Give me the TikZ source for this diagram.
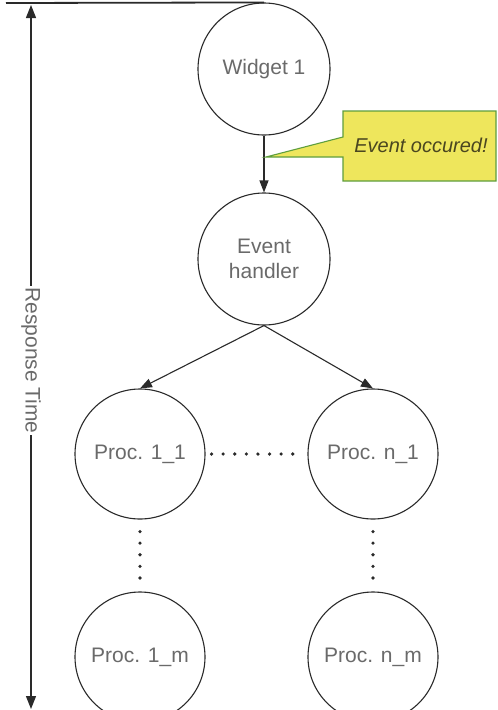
\documentclass[tikz,border=0pt]{standalone}
\usepackage{fontspec}
\setmainfont{Liberation Sans}
\usetikzlibrary{arrows.meta}
\definecolor{txt}{HTML}{6A6A6A}
\definecolor{ln}{HTML}{2A2A2A}
\definecolor{callfill}{HTML}{EEE65C}
\definecolor{callborder}{HTML}{5E9E3E}
\definecolor{calltxt}{HTML}{4A4620}
\begin{document}
\begin{tikzpicture}[x=1pt,y=-1pt,
  proc/.style={circle, draw=ln, line width=1.1pt, minimum size=130pt, inner sep=0pt,
    text=txt, font=\fontsize{21}{25}\selectfont, align=center},
  flow/.style={draw=ln, line width=1.1pt, -{Triangle[length=12pt,width=9pt]}},
  dotline/.style={draw=ln, line width=3.6pt, dash pattern=on 0pt off 11.6pt, line cap=round},
  rtime/.style={draw=ln, line width=1.4pt, {Triangle[length=13pt,width=10pt]}-{Triangle[length=13pt,width=10pt]}}]
\clip (0,0) rectangle (498,710);
\fill[white] (0,0) rectangle (498,710);
% nodes
\node[proc, minimum size=132pt] (w) at (264,69) {Widget 1};
\node[proc, minimum size=132pt] (eh) at (264,259) {Event\\handler};
\node[proc] (p11) at (140,454) {Proc. 1\_1};
\node[proc] (pn1) at (373,454) {Proc. n\_1};
\node[proc] (p1m) at (140,657) {Proc. 1\_m};
\node[proc] (pnm) at (373,657) {Proc. n\_m};
% top reference line
\coordinate (topleft) at (6,3);
\draw[ln, line width=1.8pt] (topleft) -- (w.north);
% response time arrow
\coordinate (rtop) at (31,5);
\coordinate (rbot) at (31,709);
\draw[rtime] (rtop) -- (rbot) node[pos=0.505, fill=white, inner sep=1pt, rotate=-90, text=txt,
  font=\fontsize{21}{25}\selectfont] (rt) {Response Time};
% connectors
\draw[flow] (w.south) -- (eh.north);
\draw[flow] (eh.south) -- (p11.north);
\draw[flow] (eh.south) -- (pn1.north);
\draw[dotline] ([xshift=6pt]p11.east) -- ([xshift=-6pt]pn1.west);
\draw[dotline] ([yshift=-12pt]p11.south) -- ([yshift=3pt]p1m.north);
\draw[dotline] ([yshift=-12pt]pn1.south) -- ([yshift=3pt]pnm.north);
% callout
\coordinate (tip) at (266,157);
\draw[callborder, fill=callfill, line width=1.1pt, line join=miter]
  (343,111) -- (496,111) -- (496,181) -- (343,181) -- (343,157) -- (tip) -- (343,137) -- cycle;
\node[text=calltxt, font=\fontsize{20}{24}\selectfont\itshape] (ev) at (421,145) {Event occured!};
\end{tikzpicture}
\end{document}
